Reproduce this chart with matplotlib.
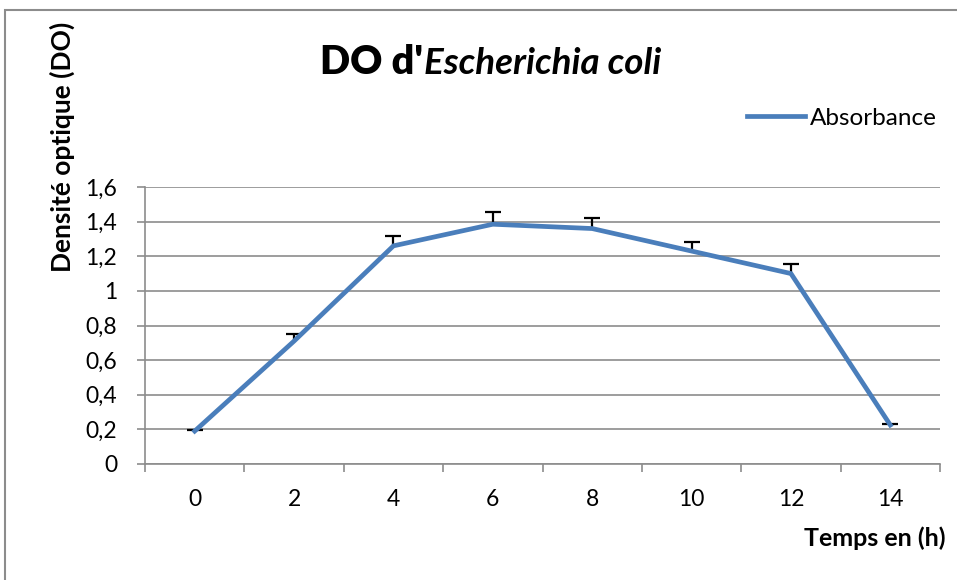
import numpy as np
import matplotlib.pyplot as plt
from matplotlib.patches import Rectangle

# data
temps = [0, 2, 4, 6, 8, 10, 12, 14]
absorbance = [0.19, 0.71, 1.26, 1.385, 1.36, 1.23, 1.10, 0.225]
erreur = [0.008, 0.04, 0.055, 0.07, 0.06, 0.055, 0.055, 0.008]
y_ticks = [0, 0.2, 0.4, 0.6, 0.8, 1.0, 1.2, 1.4, 1.6]
y_labels = ["0", "0,2", "0,4", "0,6", "0,8", "1", "1,2", "1,4", "1,6"]

plt.rcParams['font.family'] = ['Lato', 'DejaVu Sans']

W, H = 957, 580
fig = plt.figure(figsize=(W / 100, H / 100), dpi=100)
ax = fig.add_axes([145 / W, 1 - 464 / H, 795 / W, 277 / H])

# outer chart border (runs off the right and bottom edges)
fig.patches.append(Rectangle((5 / W, -0.1), 1.2, 1 - 10 / H + 0.1,
                             transform=fig.transFigure, fill=False,
                             edgecolor='#8c8c8c', linewidth=1.5))

pos = np.arange(len(temps))
# upper error bars only, cap on top
_, caps, _ = ax.errorbar(pos, absorbance, yerr=[np.zeros(len(erreur)), erreur],
                         fmt='none', ecolor='black', elinewidth=1.6, capsize=6,
                         capthick=1.6, zorder=2)
caps[0].set_visible(False)
ax.plot(pos, absorbance, color='#4a7ebb', linewidth=3.4,
        solid_joinstyle='miter', label='Absorbance', zorder=3)

ax.set_xlim(-0.5, len(temps) - 0.5)
ax.set_ylim(0, 1.6)
ax.set_yticks(y_ticks)
ax.set_yticklabels(y_labels, fontsize=16.5)
ax.set_xticks(pos)
ax.set_xticklabels([str(t) for t in temps], fontsize=16.5)
ax.set_xticks(np.arange(-0.5, len(temps)), minor=True)
ax.tick_params(axis='x', which='major', length=0, pad=18)
ax.tick_params(axis='x', which='minor', length=6, color='#8c8c8c', width=1.2)
ax.tick_params(axis='y', length=6, color='#8c8c8c', width=1.2, pad=14)

ax.grid(axis='y', color='#8c8c8c', linewidth=1.2)
ax.set_axisbelow(True)
for s in ['top', 'right']:
    ax.spines[s].set_visible(False)
for s in ['left', 'bottom']:
    ax.spines[s].set_color('#8c8c8c')
    ax.spines[s].set_linewidth(1.2)

# title: plain bold + bold italic species name on one baseline
t1 = fig.text(320 / W, 1 - 74 / H, "DO d'", fontsize=28.5, fontweight='heavy',
              ha='left', va='baseline')
fig.canvas.draw()
bb = t1.get_window_extent()
fig.text(bb.x1 / W + 1 / W, 1 - 74 / H, "Escherichia coli", fontsize=26.5,
         fontweight='bold', style='italic', ha='left', va='baseline')

fig.text(62 / W, 1 - 147 / H, "Densité optique (DO)", fontsize=19,
         fontweight='bold', rotation=90, ha='center', va='center')
fig.text(945 / W, 1 - 538 / H, "Temps en (h)", fontsize=18,
         fontweight='bold', ha='right', va='center')

leg = fig.legend(loc='center right', bbox_to_anchor=(937 / W, 1 - 118 / H),
                 frameon=False, fontsize=17.5, handlelength=2.4,
                 handletextpad=0.2, borderaxespad=0, borderpad=0)

fig.savefig('out.png', dpi=100)
